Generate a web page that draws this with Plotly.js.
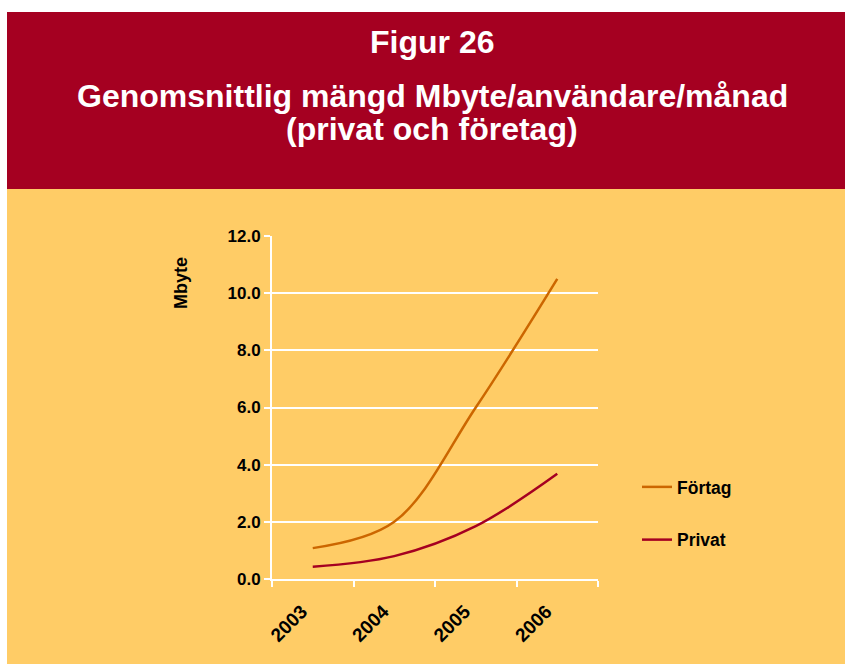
<!DOCTYPE html>
<html>
<head>
<meta charset="utf-8">
<script src="https://cdn.plot.ly/plotly-3.0.1.min.js"></script>
<style>html,body{margin:0;padding:0;background:#fff;}#chart{width:845px;height:664px;}</style>
</head>
<body>
<div id="chart"></div>
<script>
var years = ['2003', '2004', '2005', '2006'];
var fortag = [1.08, 2.0, 6.0, 10.5];
var privat = [0.43, 0.8, 1.85, 3.68];
var seriesNames = ['Förtag', 'Privat'];
var yTitle = 'Mbyte';
var titleLines = ['Figur 26', 'Genomsnittlig mängd Mbyte/användare/månad', '(privat och företag)'];

var W = 845, H = 664;
var mL = 272, mR = 247, mT = 236, mB = 85;
var pw = W - mL - mR, ph = H - mT - mB;
function px(x) { return (x - mL) / pw; }
function py(y) { return (H - mB - y) / ph; }

var red = '#A50021', yellow = '#FFCC66';
var font = 'Liberation Sans, Arial, sans-serif';

var traces = [
  {x: years, y: fortag, name: seriesNames[0], type: 'scatter', mode: 'lines',
   line: {color: '#CC6600', width: 2.5, shape: 'spline', smoothing: 1}, legendgroup: 'a'},
  {x: years, y: privat, name: seriesNames[1], type: 'scatter', mode: 'lines',
   line: {color: '#A50021', width: 2.5, shape: 'spline', smoothing: 1}, legendgroup: 'b'}
];

var layout = {
  width: W, height: H,
  margin: {l: mL, r: mR, t: mT, b: mB, pad: 0},
  paper_bgcolor: '#ffffff',
  plot_bgcolor: 'rgba(0,0,0,0)',
  font: {family: font, color: '#000', size: 17},
  showlegend: true,
  legend: {x: px(637), y: py(469), xanchor: 'left', yanchor: 'top',
           bgcolor: 'rgba(0,0,0,0)', tracegroupgap: 27, itemwidth: 30,
           font: {family: font, size: 17.5, color: '#000', weight: 'bold'}},
  xaxis: {type: 'category', range: [-0.5, 3.5], tickson: 'boundaries', ticks: 'outside', ticklen: 6, tickwidth: 2,
          tickcolor: '#ffffff', showline: true, linecolor: '#ffffff', linewidth: 2,
          showgrid: false, zeroline: false, tickangle: -45, ticklabelstandoff: 12, ticklabelshift: -11,
          tickfont: {family: font, size: 19, color: '#000', weight: 'bold'}},
  yaxis: {range: [0, 12], dtick: 2, tickformat: '.1f', ticks: 'outside', ticklen: 6, tickwidth: 2,
          tickcolor: '#ffffff', showline: true, linecolor: '#ffffff', linewidth: 2,
          showgrid: true, gridcolor: '#ffffff', gridwidth: 2, zeroline: false,
          tickfont: {family: font, size: 17, color: '#000', weight: 'bold'}},
  shapes: [
    {type: 'rect', xref: 'paper', yref: 'paper', layer: 'below',
     x0: px(7), x1: px(845), y0: py(189), y1: py(12), fillcolor: red, line: {width: 0}},
    {type: 'rect', xref: 'paper', yref: 'paper', layer: 'below',
     x0: px(7), x1: px(845), y0: py(664), y1: py(189), fillcolor: yellow, line: {width: 0}}
  ],
  annotations: [
    {text: titleLines[0], xref: 'paper', yref: 'paper', x: px(432), y: py(42), xanchor: 'center', yanchor: 'middle',
     showarrow: false, font: {family: font, size: 32, color: '#fff', weight: 'bold'}},
    {text: titleLines[1], xref: 'paper', yref: 'paper', x: px(432), y: py(96), xanchor: 'center', yanchor: 'middle',
     showarrow: false, font: {family: font, size: 32, color: '#fff', weight: 'bold'}},
    {text: titleLines[2], xref: 'paper', yref: 'paper', x: px(432), y: py(129), xanchor: 'center', yanchor: 'middle',
     showarrow: false, font: {family: font, size: 32, color: '#fff', weight: 'bold'}},
    {text: yTitle, xref: 'paper', yref: 'paper', x: px(181), y: py(283), xanchor: 'center', yanchor: 'middle',
     textangle: -90, showarrow: false, font: {family: font, size: 18, color: '#000', weight: 'bold'}}
  ]
};

Plotly.newPlot('chart', traces, layout, {displayModeBar: false, staticPlot: true});
</script>
</body>
</html>
